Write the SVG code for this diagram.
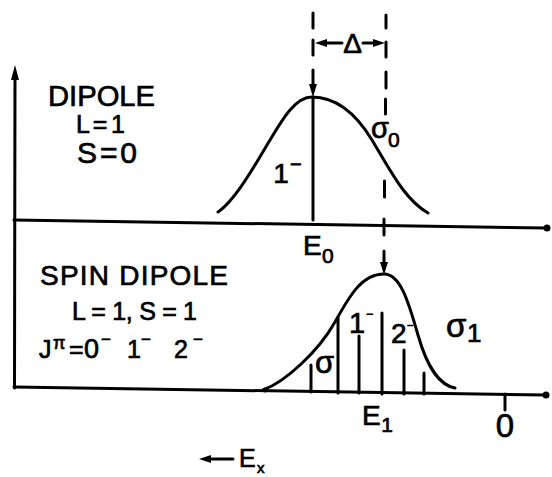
<svg xmlns="http://www.w3.org/2000/svg" width="552" height="477" viewBox="0 0 552 477">
<style>
.ln{stroke:#000;stroke-width:3;fill:none;stroke-linecap:round}
.cv{stroke:#000;stroke-width:3;fill:none;stroke-linecap:round}
.hd{fill:#000;stroke:none}
text{font-family:"Liberation Sans","DejaVu Sans",Arial,sans-serif;fill:#000;stroke:#000;stroke-width:0.7}
</style>
<rect width="552" height="477" fill="#fff"/>
<g id="connectors">
  <line class="ln" x1="14.5" y1="388" x2="15" y2="76"/>
  <polygon class="hd" points="15,65 19,80 11,80"/>
  <line class="ln" x1="14" y1="220" x2="546" y2="228"/>
  <circle class="hd" cx="547" cy="228" r="3.5"/>
  <line class="ln" x1="14" y1="387" x2="545" y2="395"/>
  <circle class="hd" cx="546" cy="395" r="3.5"/>
  <line class="ln" x1="505" y1="394" x2="505" y2="410"/>
  <line class="ln" x1="313" y1="13" x2="313" y2="28"/>
  <line class="ln" x1="313" y1="40" x2="313" y2="55"/>
  <line class="ln" x1="313" y1="70" x2="313" y2="86"/>
  <polygon class="hd" points="313,97 309,84 317,84"/>
  <line class="ln" x1="313" y1="97" x2="313" y2="220"/>
  <line class="ln" x1="386" y1="15" x2="386" y2="28"/>
  <line class="ln" x1="386" y1="42" x2="386" y2="57"/>
  <line class="ln" x1="386" y1="72" x2="386" y2="88"/>
  <line class="ln" x1="385.5" y1="99" x2="385.5" y2="114"/>
  <line class="ln" x1="384.5" y1="181" x2="384.5" y2="197"/>
  <line class="ln" x1="384" y1="219" x2="384" y2="235"/>
  <line class="ln" x1="384" y1="251" x2="384" y2="264"/>
  <polygon class="hd" points="384,275 380,262 388,262"/>
  <line class="ln" x1="322" y1="43" x2="342" y2="43"/>
  <polygon class="hd" points="315,43 327,39 327,47"/>
  <line class="ln" x1="363" y1="43" x2="377" y2="43"/>
  <polygon class="hd" points="385,43 373,39 373,47"/>
  <line class="ln" x1="206" y1="459" x2="233" y2="459"/>
  <polygon class="hd" points="199,459 211,455 211,463"/>
</g>
<g id="curve-dipole">
  <path class="cv" d="M218,212 C236,200 258,160 270,140 C282,120 295,97 312,97 C335,97 355,112 372,140 C390,170 405,200 428,213"/>
</g>
<g id="curve-spin-dipole">
  <path class="cv" d="M263,390 C285,382 318,352 335,322 C350,295 362,274 384,274 C400,274 408,300 418,335 C428,370 440,385 455,388"/>
  <circle class="hd" cx="265" cy="390" r="2.5"/>
  <g class="bars">
    <line class="ln" x1="311" y1="365" x2="311" y2="392"/>
    <line class="ln" x1="338" y1="317" x2="338" y2="393"/>
    <line class="ln" x1="359" y1="336" x2="359" y2="393"/>
    <line class="ln" x1="382" y1="313" x2="382" y2="394"/>
    <line class="ln" x1="404" y1="350" x2="404" y2="394"/>
    <line class="ln" x1="424" y1="373" x2="424" y2="394"/>
  </g>
</g>
<g id="label-dipole">
  <text x="48" y="106" font-size="29" textLength="107" lengthAdjust="spacingAndGlyphs">DIPOLE</text>
  <text x="76" y="133" font-size="25" textLength="49">L = 1</text>
  <text x="77" y="163" font-size="30" textLength="60">S = 0</text>
</g>
<g id="label-spin-dipole">
  <text x="40" y="285" font-size="28" textLength="188">SPIN DIPOLE</text>
  <text x="72" y="320" font-size="25" textLength="125">L = 1, S = 1</text>
  <text font-size="25"><tspan x="39" y="358">J</tspan><tspan x="53" y="349" font-size="18">π</tspan><tspan x="69" y="358">=</tspan><tspan x="84" y="358" font-size="27">0</tspan><tspan x="101" y="345" font-size="17">−</tspan><tspan x="127" y="358">1</tspan><tspan x="141" y="345" font-size="17">−</tspan><tspan x="174" y="358">2</tspan><tspan x="193" y="345" font-size="17">−</tspan></text>
</g>
<g id="labels-curves">
  <text x="352.5" y="53" font-size="28" text-anchor="middle">Δ</text>
  <text x="281" y="183" font-size="28" text-anchor="middle">1</text>
  <text x="290" y="171" font-size="20">−</text>
  <text x="371" y="138" font-size="29">σ</text>
  <text x="388" y="147" font-size="21">0</text>
  <text x="303" y="255" font-size="28">E</text>
  <text x="322" y="263" font-size="21">0</text>
  <text x="315" y="373" font-size="31">σ</text>
  <text x="357" y="333" font-size="29" text-anchor="middle">1</text>
  <text x="366" y="318" font-size="12">−</text>
  <text x="391" y="343" font-size="28">2</text>
  <text x="407" y="329" font-size="11">−</text>
  <text x="446" y="337" font-size="33">σ</text>
  <text x="467" y="342" font-size="26">1</text>
  <text x="362" y="425" font-size="28">E</text>
  <text x="387" y="432" font-size="21" text-anchor="middle">1</text>
  <text x="505" y="437" font-size="33" text-anchor="middle">0</text>
  <text x="239" y="467" font-size="25">E</text>
  <text x="257" y="473" font-size="15">x</text>
</g>
</svg>
